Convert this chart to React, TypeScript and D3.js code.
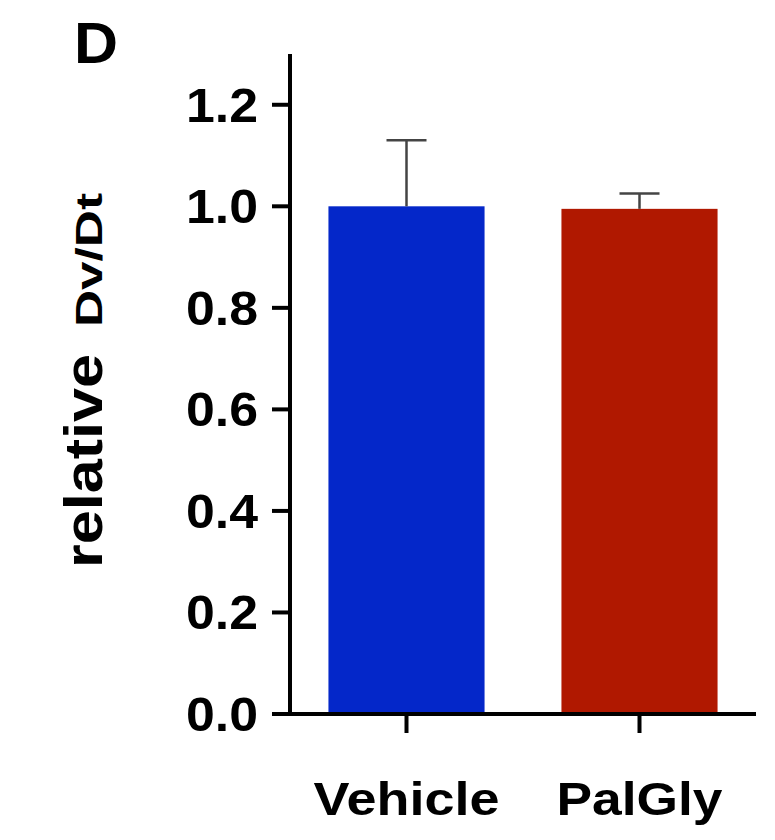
import React, { useRef, useEffect } from 'react';
import * as d3 from 'd3';

const categories = ['Vehicle', 'PalGly'];
const means = [1.0, 0.995];
const sems = [0.13, 0.03];
const barColors = ['#0427C9', '#B01800'];
const yTicks = [0, 0.2, 0.4, 0.6, 0.8, 1.0, 1.2];

const App: React.FC = () => {
  const svgRef = useRef<SVGSVGElement>(null);

  useEffect(() => {
    if (!svgRef.current) return;

    const width = 775;
    const height = 840;
    const font = '"Liberation Sans", Arial, sans-serif';

    const svg = d3.select(svgRef.current)
      .attr('width', width)
      .attr('height', height);

    svg.selectAll('*').remove();

    const y = d3.scaleLinear().domain([0, 1.3]).range([714, 54]);
    const x = d3.scaleBand<string>()
      .domain(categories)
      .range([290, 756])
      .paddingInner(0.33)
      .paddingOuter(0.165);

    const rows = categories.map((c, i) => ({ c, v: means[i], e: sems[i], color: barColors[i] }));

    // Bars
    svg.append('g')
      .selectAll('rect')
      .data(rows)
      .join('rect')
      .attr('x', d => x(d.c)!)
      .attr('width', x.bandwidth())
      .attr('y', d => y(d.v))
      .attr('height', d => y(0) - y(d.v))
      .attr('fill', d => d.color);

    // Error bars (upper only)
    const err = svg.append('g')
      .attr('stroke', '#444')
      .attr('stroke-width', 2.5);
    rows.forEach(d => {
      const cx = x(d.c)! + x.bandwidth() / 2;
      err.append('line')
        .attr('x1', cx).attr('x2', cx)
        .attr('y1', y(d.v)).attr('y2', y(d.v + d.e));
      err.append('line')
        .attr('x1', cx - 20).attr('x2', cx + 20)
        .attr('y1', y(d.v + d.e)).attr('y2', y(d.v + d.e));
    });

    // Y axis
    const ya = svg.append('g').attr('stroke', '#000').attr('stroke-width', 4);
    ya.append('line')
      .attr('x1', 290).attr('x2', 290)
      .attr('y1', y(1.3)).attr('y2', y(0) + 2);
    ya.selectAll('line.tick')
      .data(yTicks)
      .join('line')
      .attr('class', 'tick')
      .attr('x1', 272).attr('x2', 290)
      .attr('y1', d => y(d)).attr('y2', d => y(d));

    svg.append('g')
      .selectAll('text')
      .data(yTicks)
      .join('text')
      .attr('x', 258)
      .attr('y', d => y(d) + 17)
      .attr('text-anchor', 'end')
      .attr('textLength', 72)
      .attr('lengthAdjust', 'spacingAndGlyphs')
      .style('font-family', font)
      .style('font-weight', 'bold')
      .style('font-size', '48px')
      .text(d => d.toFixed(1));

    // X axis
    const xa = svg.append('g').attr('stroke', '#000').attr('stroke-width', 4);
    xa.append('line')
      .attr('x1', 288).attr('x2', 756)
      .attr('y1', y(0)).attr('y2', y(0));
    xa.selectAll('line.tick')
      .data(categories)
      .join('line')
      .attr('class', 'tick')
      .attr('x1', d => x(d)! + x.bandwidth() / 2)
      .attr('x2', d => x(d)! + x.bandwidth() / 2)
      .attr('y1', y(0)).attr('y2', y(0) + 19);

    const labelLen: Record<string, number> = { Vehicle: 186, PalGly: 166 };
    svg.append('g')
      .selectAll('text')
      .data(categories)
      .join('text')
      .attr('x', d => x(d)! + x.bandwidth() / 2)
      .attr('y', 815)
      .attr('text-anchor', 'middle')
      .attr('textLength', d => labelLen[d])
      .attr('lengthAdjust', 'spacingAndGlyphs')
      .style('font-family', font)
      .style('font-weight', 'bold')
      .style('font-size', '46px')
      .text(d => d);

    // Y label
    svg.append('text')
      .attr('transform', 'translate(102,568) rotate(-90)')
      .attr('textLength', 214)
      .attr('lengthAdjust', 'spacingAndGlyphs')
      .style('font-family', font)
      .style('font-weight', 'bold')
      .style('font-size', '54px')
      .text('relative');
    svg.append('text')
      .attr('transform', 'translate(102,327) rotate(-90)')
      .attr('textLength', 134)
      .attr('lengthAdjust', 'spacingAndGlyphs')
      .style('font-family', font)
      .style('font-weight', 'bold')
      .style('font-size', '37px')
      .text('Dv/Dt');

    // Panel letter
    svg.append('text')
      .attr('x', 74)
      .attr('y', 63)
      .attr('textLength', 44)
      .attr('lengthAdjust', 'spacingAndGlyphs')
      .style('font-family', font)
      .style('font-weight', 'bold')
      .style('font-size', '58px')
      .text('D');
  }, []);

  return (
    <svg ref={svgRef} style={{ position: 'absolute', left: 0, top: 0, background: '#fff' }}></svg>
  );
};

export default App;
